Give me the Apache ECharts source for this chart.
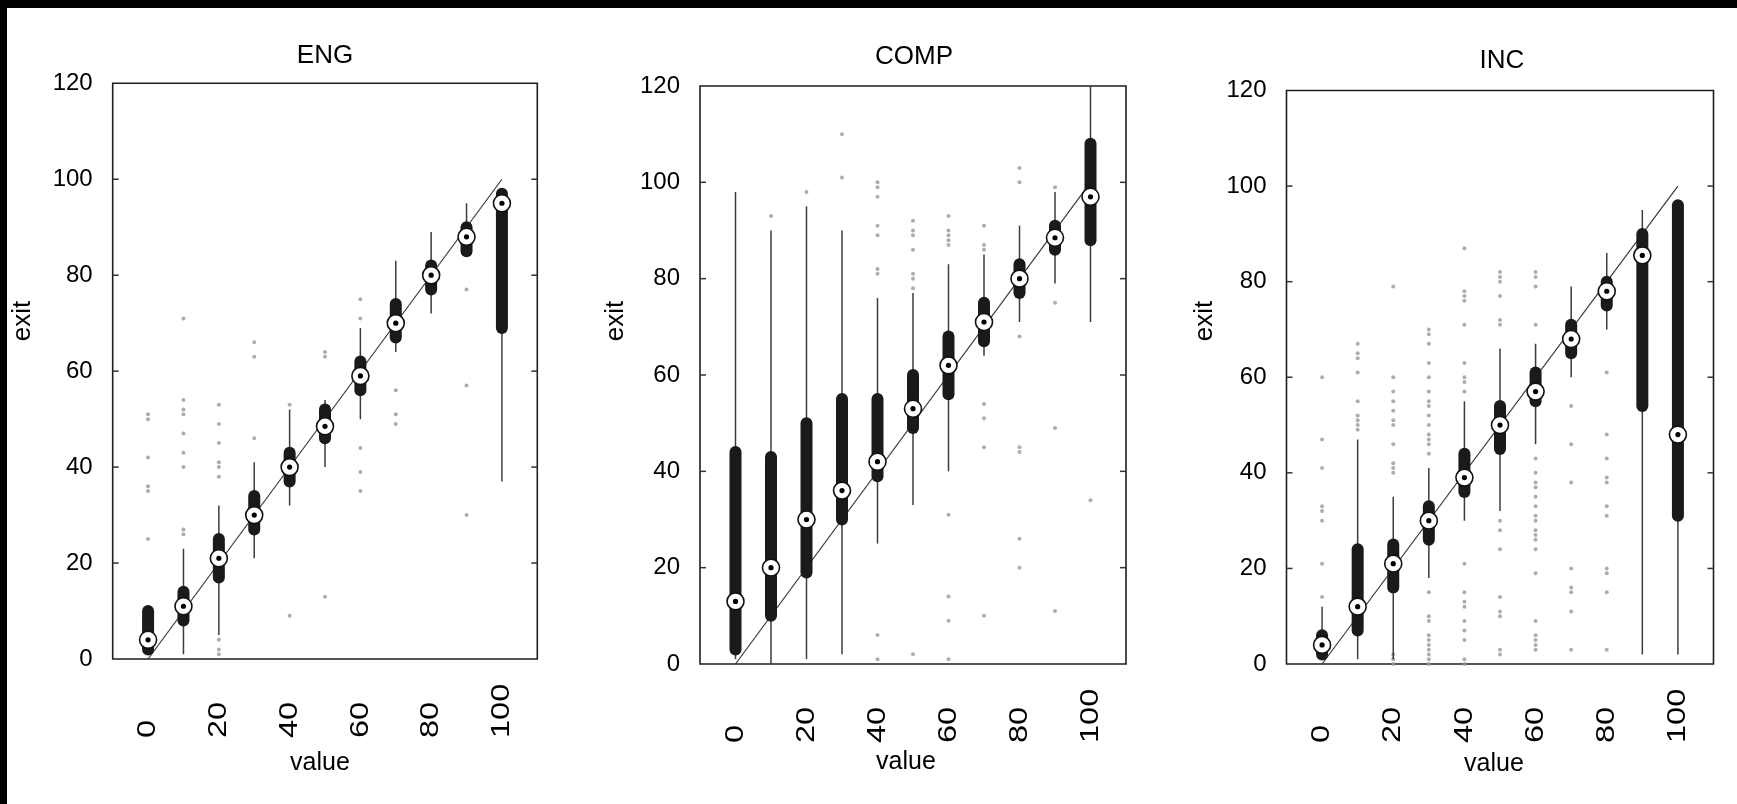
<!DOCTYPE html>
<html><head><meta charset="utf-8">
<script src="https://cdn.jsdelivr.net/npm/echarts@6/dist/echarts.min.js"></script>
<style>html,body{margin:0;padding:0;background:#fff}#c{width:1737px;height:804px}</style>
</head><body><div id="c"></div>
<script>
// ---------- data ----------
const positions = [0,10,20,30,40,50,60,70,80,90,100];
const xTickLabels = [0,20,40,60,80,100];
const yTicks = [0,20,40,60,80,100,120];
const panelTitles = ['ENG','COMP','INC'];
const diagonal = [[0,0],[100,100]];

// ENG
const engLow  = [1, 1, 5, 21, 32, 40, 50, 64, 72, 85, 37];
const engQ1   = [2, 8, 17, 27, 37, 46, 56, 67, 77, 85, 69];
const engMed  = [4, 11, 21, 30, 40, 48.5, 59, 70, 80, 88, 95];
const engQ3   = [10, 14, 25, 34, 43, 52, 62, 74, 82, 90, 97];
const engHigh = [10, 23, 32, 41, 52, 54, 69, 83, 89, 95, 98];
const engOutliers = [
  [25,35,36,42,50,51],
  [26,27,40,43,47,51,52,54,71],
  [1,2,4,38,40,41,45,49,53],
  [46,63,66],
  [9,53],
  [13,63,64],
  [35,39,44,71,75],
  [49,51,56],
  [],
  [30,57,77],
  []
];

// COMP
const compLow  = [1, 0, 1, 2, 25, 33, 40, 64, 71, 79, 71];
const compQ1   = [3, 10, 19, 30, 39, 49, 56, 67, 77, 86, 88];
const compMed  = [13, 20, 30, 36, 42, 53, 62, 71, 80, 88.5, 97];
const compQ3   = [44, 43, 50, 55, 55, 60, 68, 75, 83, 91, 108];
const compHigh = [98, 90, 95, 90, 76, 77, 83, 85, 91, 98, 120];
const compOutliers = [
  [],
  [93],
  [98],
  [101,110],
  [1,6,81,82,89,91,97,99,100],
  [2,78,80,81,86,89,90,92],
  [1,9,14,31,87,88,89,90,93],
  [10,45,51,54,86,87,91],
  [20,26,44,45,68,100,103],
  [11,49,75,99],
  [34]
];

// INC
const incLow  = [1, 1, 1, 18, 30, 32, 46, 60, 70, 2, 2];
const incQ1   = [2, 7, 16, 26, 36, 45, 55, 65, 75, 54, 31];
const incMed  = [4, 12, 21, 30, 39, 50, 57, 68, 78, 85.5, 48];
const incQ3   = [6, 24, 25, 33, 44, 54, 61, 71, 80, 90, 96];
const incHigh = [12, 47, 35, 41, 55, 66, 67, 79, 86, 95, 96];
const incOutliers = [
  [14,21,30,32,33,41,47,60],
  [49,50,51,52,55,61,64,65,67],
  [0,1,2,40,41,42,46,50,51,53,55,57,60,79],
  [0,1,2,3,4,5,6,9,10,15,44,46,47,48,50,52,54,55,57,60,63,67,69,70],
  [0,1,5,7,9,12,13,15,21,57,59,60,63,71,76,77,78,87],
  [2,3,10,11,14,24,28,30,71,72,77,80,81,82],
  [3,4,5,6,9,19,24,26,27,28,30,31,33,35,37,38,40,43,71,79,81,82],
  [3,11,15,16,20,38,46,54],
  [3,15,19,20,31,33,38,39,43,48,61],
  [],
  []
];

// ---------- layout / style ----------
const FONT = "'Liberation Sans', Arial, Helvetica, sans-serif";
const panels = [
  {stats:[engLow,engQ1,engMed,engQ3,engHigh], out:engOutliers,
   grid:{left:112.7, top:83.3, width:424.6, height:575.7},
   titleX:320, titleY:38, exitX:23, exitY:321, valueX:320, valueY:763},
  {stats:[compLow,compQ1,compMed,compQ3,compHigh], out:compOutliers,
   grid:{left:700, top:86, width:426, height:578},
   titleX:909, titleY:39, exitX:616, exitY:321, valueX:906, valueY:762},
  {stats:[incLow,incQ1,incMed,incQ3,incHigh], out:incOutliers,
   grid:{left:1286.5, top:90.5, width:427, height:573.5},
   titleX:1497, titleY:43, exitX:1205, exitY:321, valueX:1494, valueY:764}
];

const BOX_HALF = 6;
function renderBox(params, api) {
  const x = api.value(0);
  const pLow = api.coord([x, api.value(1)]);
  const pQ1 = api.coord([x, api.value(2)]);
  const pMed = api.coord([x, api.value(3)]);
  const pQ3 = api.coord([x, api.value(4)]);
  const pHigh = api.coord([x, api.value(5)]);
  const cx = pMed[0];
  const wStyle = {stroke:'#3c3c3c', lineWidth:1.5};
  return {
    type:'group',
    children:[
      {type:'line', shape:{x1:cx,y1:pQ1[1],x2:cx,y2:pLow[1]}, style:wStyle},
      {type:'line', shape:{x1:cx,y1:pQ3[1],x2:cx,y2:pHigh[1]}, style:wStyle},
      {type:'rect', shape:{x:cx-BOX_HALF, y:pQ3[1]-BOX_HALF, width:BOX_HALF*2,
        height:(pQ1[1]-pQ3[1])+BOX_HALF*2, r:BOX_HALF}, style:{fill:'#1a1a1a'}},
      {type:'circle', shape:{cx:cx, cy:pMed[1], r:8.5}, style:{fill:'#fff', stroke:'#111', lineWidth:1.6}},
      {type:'circle', shape:{cx:cx, cy:pMed[1], r:2.6}, style:{fill:'#000'}}
    ]
  };
}

const X_LABEL_GAP = 79;
function renderXLabel(params, api) {
  const v = api.value(0);
  const p = api.coord([v, 0]);
  return {
    type:'text', x:p[0], y:p[1] + X_LABEL_GAP, rotation:Math.PI/2, scaleX:1.25,
    style:{text:String(v), font:'26px ' + FONT, fill:'#000', textAlign:'left', textVerticalAlign:'middle'}
  };
}

// inward tick marks on the left and right frame edges
const TICK_LEN = 6;
function renderYTick(params, api) {
  const cs = params.coordSys;
  const y = api.coord([api.value(0), api.value(1)])[1];
  const st = {stroke:'#333', lineWidth:1.5};
  return {
    type:'group',
    children:[
      {type:'line', shape:{x1:cs.x, y1:y, x2:cs.x + TICK_LEN, y2:y}, style:st},
      {type:'line', shape:{x1:cs.x + cs.width - TICK_LEN, y1:y, x2:cs.x + cs.width, y2:y}, style:st}
    ]
  };
}

const option = {
  backgroundColor:'#fff',
  animation:false,
  textStyle:{fontFamily:FONT},
  grid:[], xAxis:[], yAxis:[], series:[], title:[],
  graphic:[
    {type:'rect', shape:{x:0,y:0,width:1737,height:8}, style:{fill:'#000'}, z:100},
    {type:'rect', shape:{x:0,y:0,width:7,height:804}, style:{fill:'#000'}, z:100}
  ]
};

panels.forEach((p, k) => {
  option.grid.push(Object.assign({show:true, borderColor:'#1e1e1e', borderWidth:1.6}, p.grid));
  option.xAxis.push({
    type:'value', gridIndex:k, min:-10, max:110, interval:10,
    axisLine:{show:false, onZero:false}, axisTick:{show:false}, splitLine:{show:false},
    axisLabel:{show:false}
  });
  option.yAxis.push({
    type:'value', gridIndex:k, min:0, max:120, interval:20, position:'left',
    axisLine:{show:false, onZero:false}, splitLine:{show:false}, axisTick:{show:false},
    axisLabel:{fontSize:24, color:'#000', margin:20, fontFamily:FONT,
      formatter: v => yTicks.indexOf(v) >= 0 ? String(v) : ''}
  });
  option.series.push({
    type:'line', xAxisIndex:k, yAxisIndex:k, data:diagonal, symbol:'none',
    lineStyle:{color:'#3a3a3a', width:1.2}, z:2, silent:true
  });
  const outData = [];
  p.out.forEach((arr, i) => arr.forEach(v => outData.push([positions[i], v])));
  option.series.push({
    type:'scatter', xAxisIndex:k, yAxisIndex:k, data:outData,
    symbol:'circle', symbolSize:4, itemStyle:{color:'#999'}, z:1, silent:true
  });
  const [lo,q1,md,q3,hi] = p.stats;
  const boxData = positions.map((x,i) => [x, lo[i], q1[i], md[i], q3[i], hi[i]]);
  option.series.push({
    type:'custom', xAxisIndex:k, yAxisIndex:k, data:boxData, clip:true,
    renderItem:renderBox, z:3, silent:true,
    encode:{x:0, y:[1,2,3,4,5]}
  });
  option.series.push({
    type:'custom', xAxisIndex:k, yAxisIndex:k, data:xTickLabels.map(v => [v, 0]),
    clip:false, renderItem:renderXLabel, z:4, silent:true, encode:{x:0, y:1}
  });
  option.series.push({
    type:'custom', xAxisIndex:k, yAxisIndex:k,
    data:yTicks.filter(v => v > 0 && v < 120).map(v => [0, v]),
    clip:false, renderItem:renderYTick, z:5, silent:true, encode:{x:0, y:1}
  });
  option.title.push({
    text:panelTitles[k], left:p.titleX, top:p.titleY, textAlign:'center',
    textStyle:{fontSize:26, fontWeight:'normal', color:'#000', fontFamily:FONT}
  });
  option.graphic.push({
    type:'text', x:p.exitX, y:p.exitY, rotation:Math.PI/2,
    style:{text:'exit', fill:'#000', font:'26px ' + FONT, textAlign:'center', textVerticalAlign:'middle'}
  });
  option.graphic.push({
    type:'text', x:p.valueX, y:p.valueY,
    style:{text:'value', fill:'#000', font:'25px ' + FONT, textAlign:'center', textVerticalAlign:'middle'}
  });
});

const chart = echarts.init(document.getElementById('c'), null, {renderer:'canvas'});
chart.setOption(option);
</script>
</body></html>
